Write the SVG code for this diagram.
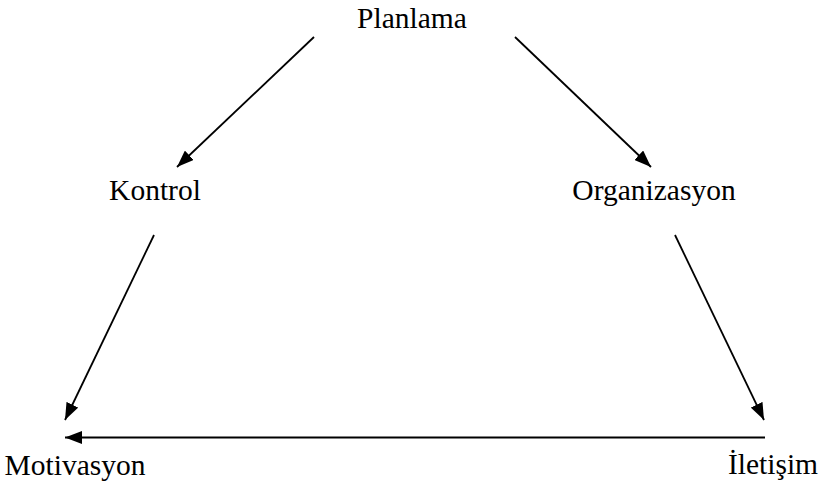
<svg xmlns="http://www.w3.org/2000/svg" width="819" height="489" viewBox="0 0 819 489">
<style>
text{font-family:"Liberation Serif","Times New Roman",serif;font-size:29.5px;fill:#000;text-anchor:middle}
.c line{stroke:#000;stroke-width:1.8;fill:none}
</style>
<defs>
<marker id="ah" viewBox="0 0 17 13" refX="17" refY="6.5" markerWidth="17" markerHeight="13" markerUnits="userSpaceOnUse" orient="auto">
<path d="M0,0 L17,6.5 L0,13 z" fill="#000"/>
</marker>
</defs>
<rect width="819" height="489" fill="#fff"/>
<g id="planlama"><text x="412" y="28">Planlama</text></g>
<g id="kontrol"><text x="155" y="200">Kontrol</text></g>
<g id="organizasyon"><text x="654" y="200">Organizasyon</text></g>
<g id="motivasyon"><text x="75" y="475">Motivasyon</text></g>
<g id="iletisim"><text x="773" y="474">İletişim</text></g>
<g class="c" id="connectors">
<line x1="314" y1="37" x2="177" y2="167" marker-end="url(#ah)"/>
<line x1="515" y1="37" x2="651" y2="167" marker-end="url(#ah)"/>
<line x1="154" y1="235" x2="65" y2="420" marker-end="url(#ah)"/>
<line x1="675" y1="235" x2="764" y2="420" marker-end="url(#ah)"/>
<line x1="765" y1="437.5" x2="65" y2="437.5" marker-end="url(#ah)"/>
</g>
</svg>
